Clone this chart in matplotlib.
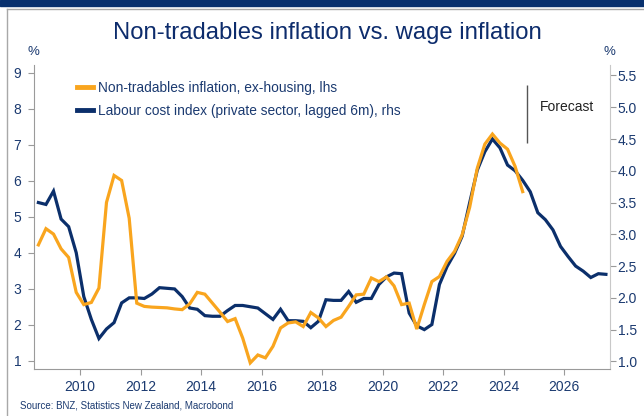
import matplotlib
matplotlib.use("Agg")
import matplotlib.pyplot as plt
from matplotlib.lines import Line2D
import numpy as np

plt.rcParams['font.family'] = ['Liberation Sans', 'DejaVu Sans']

# ---- data (quarterly, starting 2008 Q3) ----
start_year = 2008.625
non_tradables = [4.22, 4.67, 4.52, 4.11, 3.87, 2.90, 2.56, 2.62, 3.02, 5.40,
                 6.15, 6.01, 4.96, 2.60, 2.51, 2.49, 2.48, 2.47, 2.44, 2.42,
                 2.58, 2.90, 2.85, 2.60, 2.35, 2.09, 2.17, 1.63, 0.94, 1.16,
                 1.08, 1.40, 1.91, 2.05, 2.08, 1.95, 2.34, 2.19, 1.95, 2.12,
                 2.21, 2.51, 2.83, 2.85, 3.30, 3.20, 3.33, 3.08, 2.56, 2.60,
                 1.88, 2.56, 3.20, 3.34, 3.76, 4.04, 4.50, 5.27, 6.35, 7.02,
                 7.30, 7.05, 6.88, 6.40, 5.70]
lci_private = [3.50, 3.47, 3.68, 3.24, 3.12, 2.71, 2.02, 1.66, 1.36, 1.51,
               1.61, 1.92, 2.00, 2.00, 1.99, 2.06, 2.16, 2.15, 2.14, 2.02,
               1.84, 1.82, 1.72, 1.71, 1.71, 1.80, 1.88, 1.88, 1.86, 1.84,
               1.75, 1.66, 1.82, 1.64, 1.64, 1.63, 1.53, 1.63, 1.97, 1.96,
               1.96, 2.10, 1.93, 1.99, 1.99, 2.21, 2.33, 2.39, 2.38, 1.76,
               1.56, 1.50, 1.58, 2.21, 2.49, 2.70, 2.97, 3.50, 4.01, 4.30,
               4.50, 4.36, 4.09, 4.00, 3.85, 3.67, 3.34, 3.23, 3.07, 2.81,
               2.65, 2.50, 2.42, 2.32, 2.38, 2.37]
x_ticks = [2010, 2012, 2014, 2016, 2018, 2020, 2022, 2024, 2026]
left_ticks = [1, 2, 3, 4, 5, 6, 7, 8, 9]
right_ticks = [1.0, 1.5, 2.0, 2.5, 3.0, 3.5, 4.0, 4.5, 5.0, 5.5]
forecast_year = 2024.78

t_nt = start_year + 0.25 * np.arange(len(non_tradables))
t_lci = start_year + 0.25 * np.arange(len(lci_private))

ORANGE = '#F9A51E'
NAVY = '#0B2F6B'
TXT = '#1B3A70'
SPINE = '#9A9A9A'

W, H = 644, 416
fig = plt.figure(figsize=(W / 100, H / 100), dpi=100)
ax = fig.add_axes([34 / W, 1 - 369 / H, 576 / W, 304 / H])
ax2 = ax.twinx()

ax2.plot(t_lci, lci_private, color=NAVY, lw=2.3, solid_joinstyle='miter')
ax.plot(t_nt, non_tradables, color=ORANGE, lw=2.3, solid_joinstyle='miter')
ax.set_zorder(ax2.get_zorder() + 1)
ax.patch.set_visible(False)

ax.set_xlim(2008.48, 2027.51)
ax.set_ylim(0.77, 9.22)
ax2.set_ylim(0.88, 5.665)

ax.set_xticks(x_ticks)
ax.set_xticklabels([str(v) for v in x_ticks])
ax.set_yticks(left_ticks)
ax.set_yticklabels([str(v) for v in left_ticks])
ax2.set_yticks(right_ticks)
ax2.set_yticklabels([f"{v:.1f}" for v in right_ticks])

for a in (ax, ax2):
    a.spines['top'].set_visible(False)
ax.spines['right'].set_visible(False)
ax2.spines['left'].set_visible(False)
ax2.spines['bottom'].set_visible(False)
ax.spines['left'].set_color(SPINE)
ax.spines['bottom'].set_color(SPINE)
ax2.spines['right'].set_color('#C8C8C8')

ax.tick_params(axis='y', direction='out', length=4, width=0.8, color=SPINE,
               labelsize=10, labelcolor=TXT, pad=5)
ax.tick_params(axis='x', direction='out', length=4, width=0.8, color=SPINE,
               labelsize=10, labelcolor=TXT, pad=4)
ax2.tick_params(axis='y', direction='out', length=4, width=0.8, color=SPINE,
                labelsize=10, labelcolor=TXT, pad=1.5)

# forecast marker
ax.vlines([forecast_year], 7.06, 8.67, color='#555555', lw=1)
ax.text(2025.2, 8.06, 'Forecast', fontsize=10, color='#222222',
        va='center', ha='left')

handles = [Line2D([], [], color=ORANGE, lw=3.5),
           Line2D([], [], color=NAVY, lw=3.5)]
labels = ['Non-tradables inflation, ex-housing, lhs',
          'Labour cost index (private sector, lagged 6m), rhs']
leg = ax.legend(handles, labels, loc='upper left', bbox_to_anchor=(0.065, 0.966),
                frameon=False, fontsize=9.9, handlelength=1.15, handletextpad=0.35,
                labelspacing=0.65, borderaxespad=0)
for t in leg.get_texts():
    t.set_color(TXT)

# titles and labels
fig.text(327 / W, 1 - 33 / H, 'Non-tradables inflation vs. wage inflation',
         fontsize=17.2, color='#0D2C6C', ha='center', va='center')
fig.text(33 / W, 1 - 52 / H, '%', fontsize=9.5, color=TXT, ha='center', va='center')
fig.text(609 / W, 1 - 52 / H, '%', fontsize=9.5, color=TXT, ha='center', va='center')
fig.text(20 / W, 1 - 406 / H, 'Source: BNZ, Statistics New Zealand, Macrobond',
         fontsize=7, color=TXT, ha='left', va='center')

# decorative frame
fig.patches.append(plt.Rectangle((0, 1 - 6 / H), 1, 6 / H, transform=fig.transFigure,
                                 color='#08306E', zorder=5))
fig.lines.append(Line2D([7 / W, 1], [1 - 9 / H, 1 - 9 / H], transform=fig.transFigure,
                        color='#A8A8A8', lw=1))
fig.lines.append(Line2D([7 / W, 7 / W], [0, 1 - 9 / H], transform=fig.transFigure,
                        color='#A8A8A8', lw=1))

fig.savefig('out.png', dpi=100)
